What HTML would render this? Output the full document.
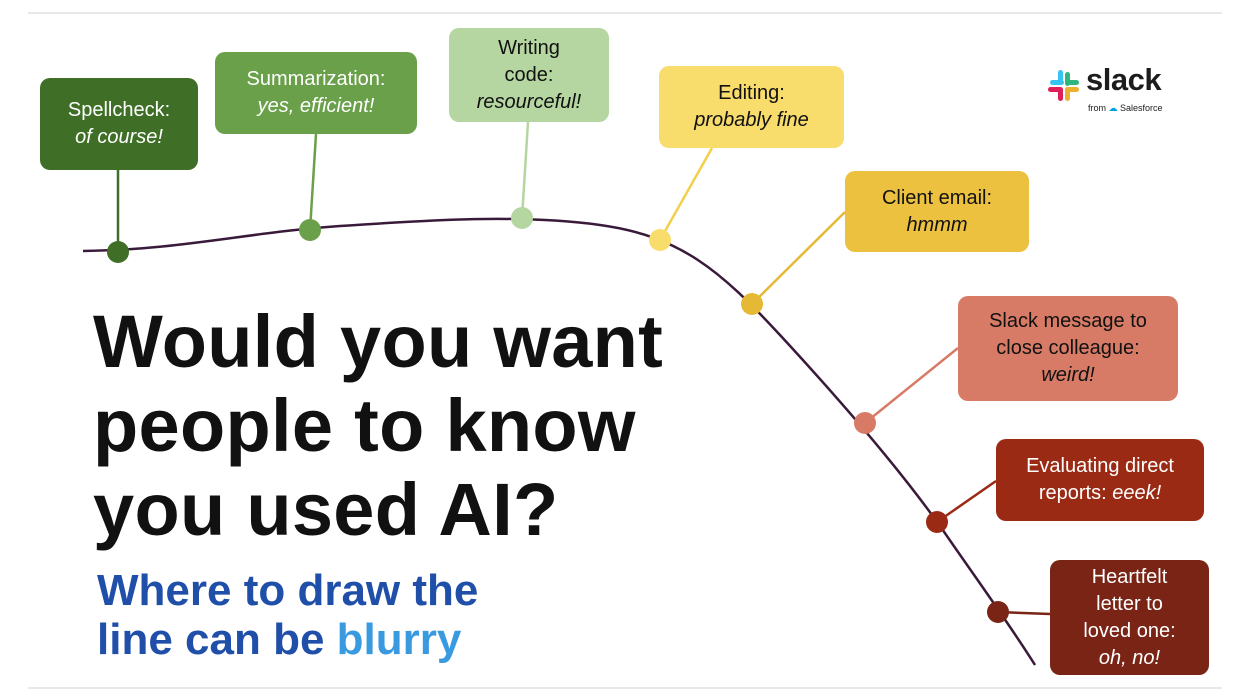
<!DOCTYPE html>
<html><head><meta charset="utf-8"><style>
body{margin:0;width:1250px;height:700px;background:#fff;position:relative;overflow:hidden;font-family:"Liberation Sans",sans-serif}
.b{position:absolute;border-radius:10px;display:flex;align-items:center;justify-content:center;text-align:center;font-size:20px;line-height:27px;box-sizing:border-box}
.b>div{display:block}
.w{color:#fff}.k{color:#111}
i{font-style:italic}
.h{position:absolute;left:93px;top:300px;font-size:74px;line-height:84px;font-weight:bold;color:#111;letter-spacing:0.3px}
.s{position:absolute;left:97px;top:566px;font-size:44px;line-height:49px;font-weight:bold;color:#1f4fa8}
</style></head><body>
<div style="position:absolute;left:28px;top:12px;width:1194px;height:2px;background:#e6e8ea"></div>
<div style="position:absolute;left:28px;top:687px;width:1194px;height:2px;background:#e6e8ea"></div>
<svg width="1250" height="700" style="position:absolute;left:0;top:0">
<path d="M83,251 C180,250 250,232 340,226 C430,220 520,214 600,225 C680,236 720,270 780,335 C840,400 900,470 940,526 C980,584 1010,625 1035,665" fill="none" stroke="#3a1a3a" stroke-width="2.5"/>
<g stroke-width="2.5">
<line x1="118" y1="170" x2="118" y2="252" stroke="#3f6f26"/>
<line x1="316" y1="134" x2="310" y2="230" stroke="#6aa04a"/>
<line x1="528" y1="122" x2="522" y2="218" stroke="#b5d6a0"/>
<line x1="712" y1="148" x2="660" y2="240" stroke="#f3cf4c"/>
<line x1="845" y1="212" x2="752" y2="304" stroke="#e5b935"/>
<line x1="958" y1="348" x2="865" y2="423" stroke="#d77b66"/>
<line x1="996" y1="481" x2="937" y2="522" stroke="#9a2a14"/>
<line x1="1050" y1="614" x2="998" y2="612" stroke="#7a2416"/>
</g>
<circle cx="118" cy="252" r="11" fill="#3f6f26"/>
<circle cx="310" cy="230" r="11" fill="#6aa04a"/>
<circle cx="522" cy="218" r="11" fill="#b5d6a0"/>
<circle cx="660" cy="240" r="11" fill="#f8dc6c"/>
<circle cx="752" cy="304" r="11" fill="#e5b935"/>
<circle cx="865" cy="423" r="11" fill="#d77b66"/>
<circle cx="937" cy="522" r="11" fill="#9a2a14"/>
<circle cx="998" cy="612" r="11" fill="#7a2416"/>
</svg>
<div class="b w" style="left:40px;top:78px;width:158px;height:92px;background:#3f6f26"><div>Spellcheck:<br><i>of course!</i></div></div>
<div class="b w" style="left:215px;top:52px;width:202px;height:82px;background:#6aa04a"><div>Summarization:<br><i>yes, efficient!</i></div></div>
<div class="b k" style="left:449px;top:28px;width:160px;height:94px;background:#b5d6a0"><div>Writing<br>code:<br><i>resourceful!</i></div></div>
<div class="b k" style="left:659px;top:66px;width:185px;height:82px;background:#f8dc6c"><div>Editing:<br><i>probably fine</i></div></div>
<div class="b k" style="left:845px;top:171px;width:184px;height:81px;background:#ebc13f"><div>Client email:<br><i>hmmm</i></div></div>
<div class="b k" style="left:958px;top:296px;width:220px;height:105px;background:#d77b66"><div>Slack message to<br>close colleague:<br><i>weird!</i></div></div>
<div class="b w" style="left:996px;top:439px;width:208px;height:82px;background:#9a2a14"><div>Evaluating direct<br>reports: <i>eeek!</i></div></div>
<div class="b w" style="left:1050px;top:560px;width:159px;height:115px;background:#7a2416"><div>Heartfelt<br>letter to<br>loved one:<br><i>oh, no!</i></div></div>
<div class="h">Would you want<br>people to know<br>you used AI?</div>
<div class="s">Where to draw the<br>line can be <span style="color:#3a9ae0">blurry</span></div>
<div style="position:absolute;left:1048px;top:70px;width:32px;height:32px">
<div style="position:absolute;left:2px;top:10px;width:14px;height:5px;border-radius:3px;background:#36c5f0"></div>
<div style="position:absolute;left:10px;top:0;width:5px;height:14px;border-radius:3px;background:#36c5f0"></div>
<div style="position:absolute;left:17px;top:2px;width:5px;height:14px;border-radius:3px;background:#2eb67d"></div>
<div style="position:absolute;left:17px;top:10px;width:14px;height:5px;border-radius:3px;background:#2eb67d"></div>
<div style="position:absolute;left:17px;top:17px;width:14px;height:5px;border-radius:3px;background:#ecb22e"></div>
<div style="position:absolute;left:17px;top:17px;width:5px;height:14px;border-radius:3px;background:#ecb22e"></div>
<div style="position:absolute;left:10px;top:17px;width:5px;height:14px;border-radius:3px;background:#e01e5a"></div>
<div style="position:absolute;left:0;top:17px;width:14px;height:5px;border-radius:3px;background:#e01e5a"></div>
</div>
<div style="position:absolute;left:1086px;top:62px;font-size:31px;font-weight:bold;color:#1d1c1d;letter-spacing:-0.5px">slack</div>
<div style="position:absolute;left:1088px;top:103px;font-size:9px;color:#1d1c1d">from <span style="color:#00a1e0">☁</span> Salesforce</div>
</body></html>
